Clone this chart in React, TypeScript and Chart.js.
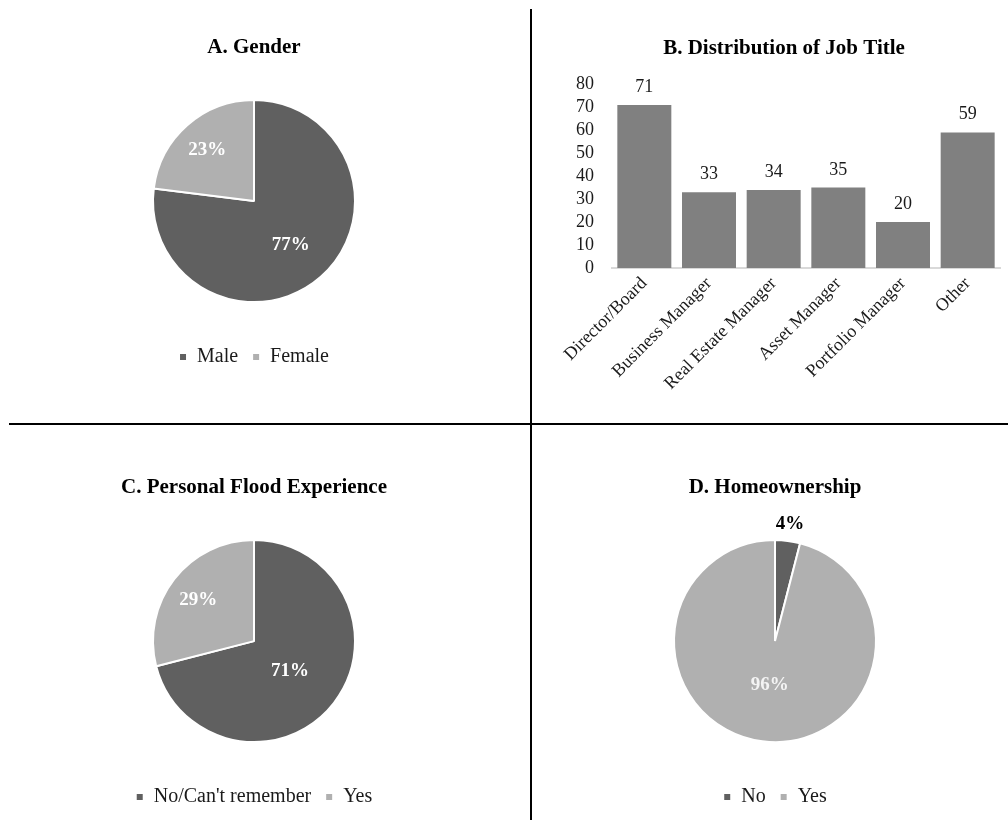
import React, { useEffect, useRef } from 'react';
import { Chart, registerables } from 'chart.js';

Chart.register(...registerables);

const FONT = "'Liberation Serif', 'Times New Roman', serif";

// ---- data ----
const genderLabels = ['Male', 'Female'];
const genderValues = [77, 23];

const jobTitles = ['Director/Board', 'Business Manager', 'Real Estate Manager', 'Asset Manager', 'Portfolio Manager', 'Other'];
const jobCounts = [71, 33, 34, 35, 20, 59];
const jobAxisMax = 80;
const jobAxisStep = 10;

const floodLabels = ["No/Can't remember", 'Yes'];
const floodValues = [71, 29];

const homeLabels = ['No', 'Yes'];
const homeValues = [4, 96];

const pieColors = ['#606060', '#b0b0b0'];
const barColor = '#808080';
const textColor = '#1a1a1a';

const sliceLabelPlugin = {
  id: 'sliceLabels',
  afterDatasetsDraw(chart: any, _args: any, opts: any) {
    const { ctx } = chart;
    const meta = chart.getDatasetMeta(0);
    const data = chart.data.datasets[0].data as number[];
    const total = data.reduce((a, b) => a + b, 0);
    ctx.save();
    ctx.font = `bold ${opts.size}px ${FONT}`;
    ctx.textAlign = 'center';
    ctx.textBaseline = 'middle';
    meta.data.forEach((arc: any, i: number) => {
      const p = arc.getProps(['x', 'y', 'startAngle', 'endAngle', 'outerRadius'], true);
      const mid = (p.startAngle + p.endAngle) / 2;
      const r = p.outerRadius * opts.radii[i];
      ctx.fillStyle = opts.colors[i];
      ctx.fillText(Math.round((data[i] / total) * 100) + '%', p.x + Math.cos(mid) * r, p.y + Math.sin(mid) * r + 2);
    });
    ctx.restore();
  },
};

const barValuePlugin = {
  id: 'barValues',
  afterDatasetsDraw(chart: any) {
    const { ctx } = chart;
    const meta = chart.getDatasetMeta(0);
    const data = chart.data.datasets[0].data as number[];
    ctx.save();
    ctx.font = `18px ${FONT}`;
    ctx.fillStyle = textColor;
    ctx.textAlign = 'center';
    ctx.textBaseline = 'alphabetic';
    meta.data.forEach((bar: any, i: number) => {
      ctx.fillText(String(data[i]), bar.x, bar.y - 13);
    });
    ctx.restore();
  },
};

type PieProps = {
  title: string;
  labels: string[];
  values: number[];
  radii: number[];
  labelColors: string[];
  left: number;
  top: number;
  width: number;
  height: number;
};

function PieChart(props: PieProps) {
  const ref = useRef<HTMLCanvasElement>(null);
  useEffect(() => {
    const chart = new Chart(ref.current as HTMLCanvasElement, {
      type: 'pie',
      data: {
        labels: props.labels,
        datasets: [
          {
            data: props.values,
            backgroundColor: pieColors,
            borderColor: '#ffffff',
            borderWidth: 2,
            radius: 101,
          } as any,
        ],
      },
      options: {
        responsive: false,
        animation: false,
        devicePixelRatio: 1,
        layout: { padding: { top: 0, bottom: 23 } },
        plugins: {
          title: {
            display: true,
            text: props.title,
            color: '#000',
            font: { family: FONT, size: 21, weight: 'bold' },
            padding: { top: 35, bottom: 9 },
          },
          legend: {
            position: 'bottom',
            labels: {
              color: textColor,
              font: { family: FONT, size: 20 },
              boxWidth: 8,
              boxHeight: 8,
              padding: 14,
            },
          },
          tooltip: { enabled: false },
          sliceLabels: { size: 19, radii: props.radii, colors: props.labelColors },
        } as any,
      },
      plugins: [sliceLabelPlugin],
    });
    return () => chart.destroy();
  }, []);
  return (
    <canvas
      ref={ref}
      width={props.width}
      height={props.height}
      style={{ position: 'absolute', left: props.left, top: props.top, width: props.width, height: props.height }}
    />
  );
}

function BarChart() {
  const ref = useRef<HTMLCanvasElement>(null);
  useEffect(() => {
    const chart = new Chart(ref.current as HTMLCanvasElement, {
      type: 'bar',
      data: {
        labels: jobTitles,
        datasets: [
          {
            data: jobCounts,
            backgroundColor: barColor,
            barPercentage: 0.835,
            categoryPercentage: 1,
          },
        ],
      },
      options: {
        responsive: false,
        animation: false,
        devicePixelRatio: 1,
        layout: { padding: { left: 27, right: 8, top: 0, bottom: 0 } },
        plugins: {
          title: {
            display: true,
            text: 'B. Distribution of Job Title',
            color: '#000',
            font: { family: FONT, size: 21, weight: 'bold' },
            padding: { top: 36, bottom: 23 },
          },
          legend: { display: false },
          tooltip: { enabled: false },
        },
        scales: {
          x: {
            grid: { display: false, drawTicks: false },
            border: { display: true, color: '#d9d9d9', width: 2 },
            ticks: {
              color: textColor,
              font: { family: FONT, size: 18 },
              minRotation: 45,
              maxRotation: 45,
              autoSkip: false,
              padding: 5,
            },
            afterFit: (s: any) => {
              s.height = 154;
            },
          },
          y: {
            min: 0,
            max: jobAxisMax,
            grid: { display: false, drawTicks: false },
            border: { display: false },
            ticks: {
              stepSize: jobAxisStep,
              autoSkip: false,
              color: textColor,
              font: { family: FONT, size: 18 },
              padding: 18,
            },
            afterFit: (s: any) => {
              s.width = 44;
            },
          },
        },
      },
      plugins: [barValuePlugin],
    });
    return () => chart.destroy();
  }, []);
  return (
    <canvas
      ref={ref}
      width={467}
      height={422}
      style={{ position: 'absolute', left: 541, top: 0, width: 467, height: 422 }}
    />
  );
}

export default function App() {
  return (
    <div style={{ position: 'absolute', left: 0, top: 0, width: 1008, height: 820, background: '#fff', overflow: 'hidden' }}>
      <PieChart
        title="A. Gender"
        labels={genderLabels}
        values={genderValues}
        radii={[0.55, 0.7]}
        labelColors={['#ffffff', '#ffffff']}
        left={0}
        top={0}
        width={508}
        height={400}
      />
      <BarChart />
      <PieChart
        title="C. Personal Flood Experience"
        labels={floodLabels}
        values={floodValues}
        radii={[0.45, 0.7]}
        labelColors={['#ffffff', '#ffffff']}
        left={0}
        top={440}
        width={508}
        height={400}
      />
      <PieChart
        title="D. Homeownership"
        labels={homeLabels}
        values={homeValues}
        radii={[1.19, 0.42]}
        labelColors={['#000000', '#f4f4f4']}
        left={541}
        top={440}
        width={468}
        height={400}
      />
      <div style={{ position: 'absolute', left: 530, top: 9, width: 2, height: 811, background: '#000' }} />
      <div style={{ position: 'absolute', left: 9, top: 423, width: 999, height: 2, background: '#000' }} />
    </div>
  );
}
